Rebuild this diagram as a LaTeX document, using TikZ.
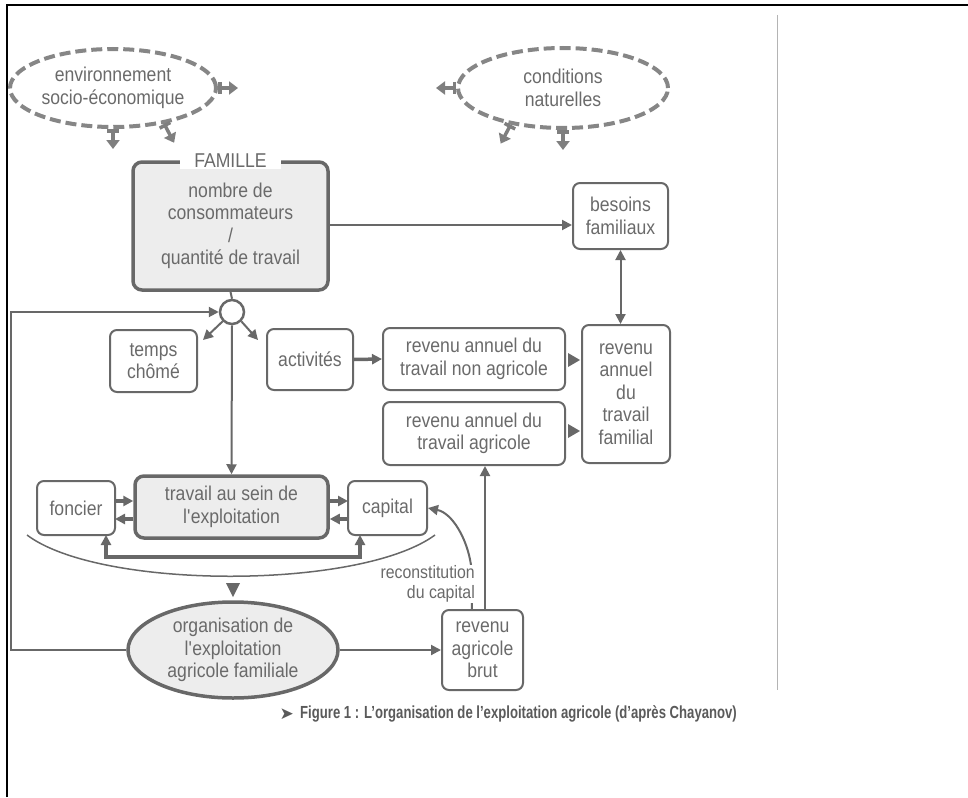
\documentclass[tikz,border=0pt]{standalone}
\usepackage{fontspec}
\setmainfont{Liberation Sans}[FakeStretch=0.88]
\newfontfamily\capfont{Liberation Sans}[FakeStretch=0.75]
\newfontfamily\symfont{DejaVu Sans}
\usetikzlibrary{arrows.meta,calc,shapes.geometric}
\definecolor{ink}{HTML}{6A6A6A}
\definecolor{lin}{HTML}{686868}
\definecolor{boxfill}{HTML}{EDEDED}
\definecolor{capcol}{HTML}{5A5A5A}
\begin{document}
\begin{tikzpicture}[x=1pt,y=-1pt,
  every node/.style={text=ink, font=\fontsize{20}{22.5}\selectfont, align=center, inner sep=0pt},
  box/.style={draw=lin, line width=2pt, rounded corners=7pt},
  bigbox/.style={draw=lin, line width=3.5pt, rounded corners=9pt, fill=boxfill},
  dashell/.style={ellipse, draw=lin!80, line width=4pt, dash pattern=on 11pt off 5pt},
  conn/.style={draw=lin, line width=2pt},
  thickconn/.style={draw=lin, line width=3.5pt},
  tip/.style={-{Triangle[length=10pt,width=10pt]}},
  dtip/.style={{Triangle[length=10pt,width=10pt]}-{Triangle[length=10pt,width=10pt]}},
  ellarrow/.style={draw=lin!85, line width=3.5pt, {Bar[width=12pt]}-{Triangle[length=9pt,width=13pt]}}
]
\useasboundingbox (0,0) rectangle (968,797);
% frame
\draw[black, line width=2.5pt] (7,797) -- (7,5) -- (968,5);
\draw[lin!50, line width=0.6pt] (777,15) -- (777,690);

% dashed ellipses
\node[dashell, minimum width=206pt, minimum height=78pt] (env) at (113,88) {environnement\\socio-économique};
\node[dashell, minimum width=210pt, minimum height=80pt] (cond) at (563,88) {conditions\\naturelles};
\draw[ellarrow] (env.east) -- ++(20,0);
\draw[ellarrow] (env.south) -- ++(0,20);
\draw[ellarrow] (env.-35) -- ++(10,19);
\draw[ellarrow] (cond.west) -- ++(-20,0);
\draw[ellarrow] (cond.south) -- ++(0,20);
\draw[ellarrow] (cond.215) -- ++(-10,19);

% boxes
\node[bigbox, minimum width=195pt, minimum height=128pt] (fam) at (230.5,226) {nombre de\\consommateurs\\/\\quantité de travail};
\node[fill=white, inner xsep=14pt, inner ysep=2pt] (famlab) at (fam.north) {FAMILLE};
\node[box, minimum width=95pt, minimum height=66pt] (bes) at (620.5,216) {besoins\\familiaux};
\node[box, minimum width=88pt, minimum height=138pt] (rtf) at (626,394) {revenu\\annuel\\du\\travail\\familial};
\node[box, minimum width=87pt, minimum height=62pt] (temps) at (153.5,361) {temps\\chômé};
\node[box, minimum width=86pt, minimum height=61pt] (act) at (310,359.5) {activités};
\node[box, minimum width=182pt, minimum height=62pt] (rna) at (474,359) {revenu annuel du\\travail non agricole};
\node[box, minimum width=182pt, minimum height=63pt] (ra) at (474,433.5) {revenu annuel du\\travail agricole};
\node[bigbox, minimum width=193pt, minimum height=62pt] (trav) at (231.5,507) {travail au sein de\\l\textquotesingle exploitation};
\node[box, minimum width=78pt, minimum height=54pt] (fon) at (76,508) {foncier};
\node[box, minimum width=79pt, minimum height=54pt] (cap) at (387.5,508) {capital};
\node[box, minimum width=81pt, minimum height=80pt] (brut) at (482.5,650) {revenu\\agricole\\brut};
\node[ellipse, draw=lin, line width=3.5pt, fill=boxfill, minimum width=210pt, minimum height=96pt] (org) at (233,650) {organisation de\\l\textquotesingle exploitation\\agricole familiale};
\node[circle, draw=lin, line width=2.5pt, fill=white, minimum size=24pt] (circ) at (232,312) {};

% connectors
\draw[conn, tip] (fam.east |- 0,225) -- (bes.west |- 0,225);
\draw[conn, dtip] (bes.south) -- (bes.south |- rtf.north);
\draw[conn] (fam.south) -- (circ.north);
\coordinate (tl) at (203,340);
\coordinate (tr) at (258,340);
\draw[conn, tip] (circ.225) -- (tl);
\draw[conn, tip] (circ.-45) -- (tr);
\draw[conn, tip] (circ.south) -- (trav.north);
\coordinate (loopc) at (11,450);
\draw[conn, tip] (org.west) -| (loopc) |- (circ.west);
\draw[thickconn, tip] (act.east) -- (rna.west);
\fill[lin] (568,353) -- (580,360) -- (568,367) -- cycle;
\fill[lin] (568,424) -- (580,431) -- (568,438) -- cycle;

% travail <-> foncier / capital
\coordinate (f1) at (115,501);
\coordinate (f2) at (115,519);
\coordinate (c1) at (348,501);
\coordinate (c2) at (348,519);
\draw[thickconn, tip] (f1) -- (f1 -| trav.west);
\draw[thickconn, tip] (f2 -| trav.west) -- (f2);
\draw[thickconn, tip] (c1 -| trav.east) -- (c1);
\draw[thickconn, tip] (c2) -- (c2 -| trav.east);
\coordinate (fb) at (106,535);
\coordinate (cb) at (360,535);
\draw[thickconn, dtip] (fb) -- ++(0,22) -| (cb);

% arc and down triangle
\draw[lin, line width=1.5pt] (27,535) .. controls (100,590) and (360,590) .. (435,535);
\fill[lin] (226,583) -- (240,583) -- (233,597) -- cycle;

% reconstitution du capital
\coordinate (rb) at (472,610);
\draw[conn, tip] (rb) -- (471,565) .. controls (467,538) and (452,513) .. (cap.east);
\node[fill=white, inner sep=1pt, align=right, anchor=east, font=\fontsize{18}{20}\selectfont] (rec) at (476,584) {reconstitution\\du capital};
\coordinate (rb2) at (485,610);
\draw[conn, tip] (rb2) -- (rb2 |- ra.south);
\draw[conn, tip] (org.east) -- (brut.west);

% caption
\node[anchor=east, text=capcol, font=\symfont\fontsize{17}{20}\selectfont] (carrow) at (294,714) {➤};
\node[anchor=west, text=capcol, font=\capfont\bfseries\fontsize{17.5}{21}\selectfont] (caption) at (300,714) {Figure 1 : L’organisation de l’exploitation agricole (d’après Chayanov)};
\end{tikzpicture}
\end{document}
